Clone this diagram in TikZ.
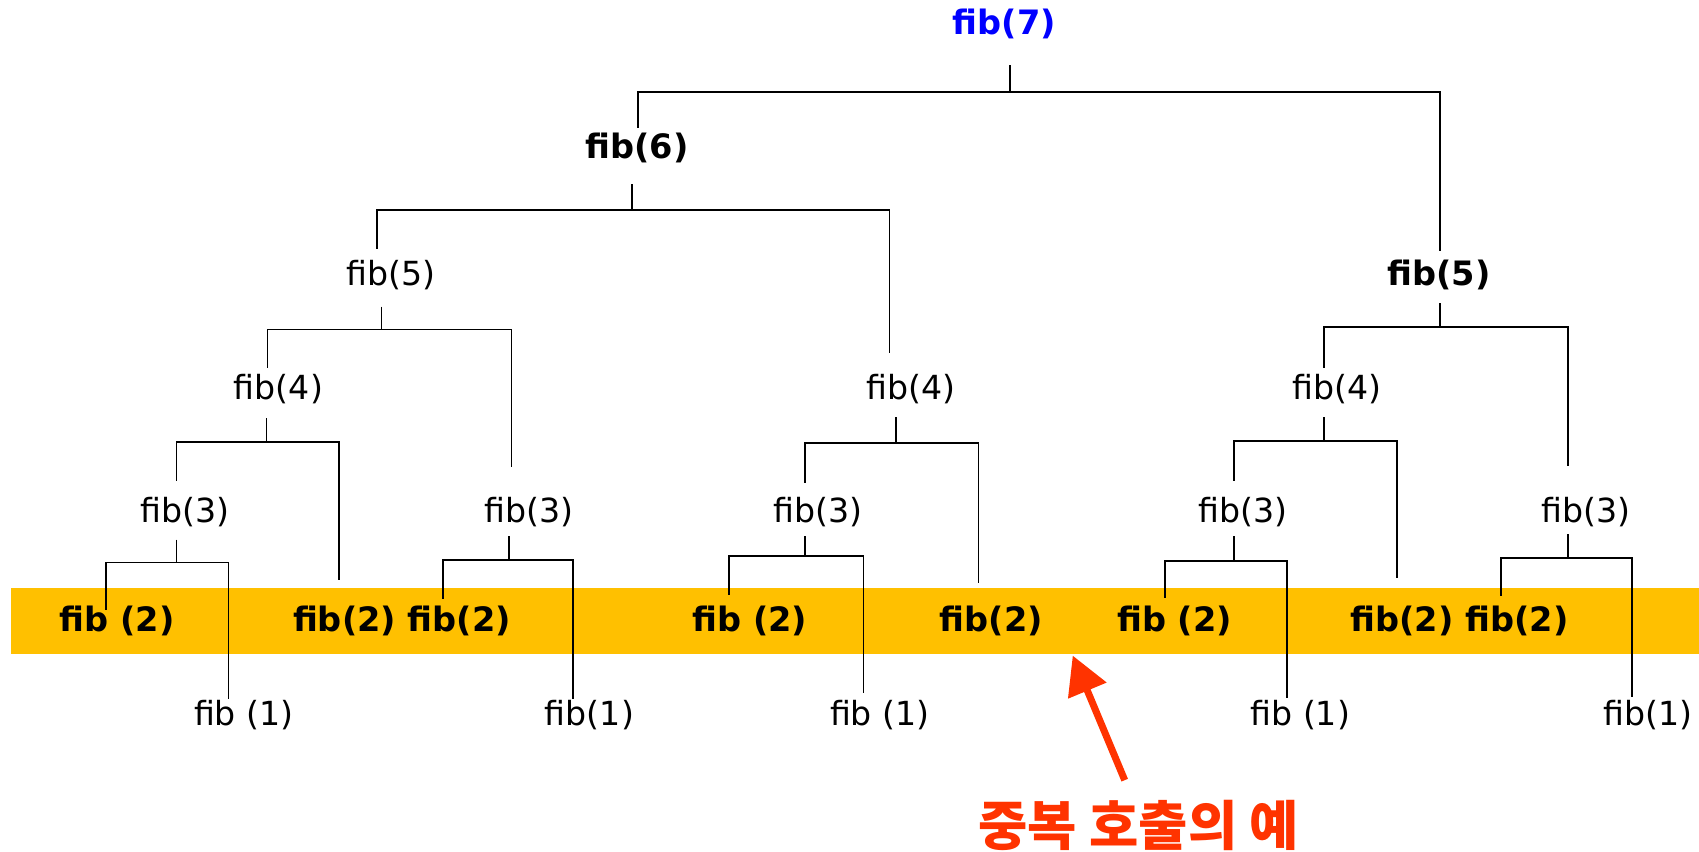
\documentclass[tikz,border=0pt]{standalone}
\usepackage{fontspec}
\setmainfont{DejaVu Sans}
\newfontfamily\kofont{Noto Sans CJK KR}
\usetikzlibrary{calc,arrows.meta}
\definecolor{band}{HTML}{FFC000}
\definecolor{callred}{HTML}{FF3300}
\definecolor{rootblue}{HTML}{0000FF}

% one call splitting into its two sub-calls:
% #1 parent, #2 start offset, #3 drop to the junction,
% #4 left child, #5 its end offset, #6 right child, #7 its end offset
\newcommand\fibsplit[7]{%
  \draw[conn] ($(#1)+(#2)$) -- ++(0,#3) -| ($(#4)+(#5)$);
  \draw[conn] ($(#1)+(#2)$) ++(0,#3) -| ($(#6)+(#7)$);
}

\begin{document}
\begin{tikzpicture}[x=0.5418pt,y=-0.5418pt,
  call/.style={inner sep=0pt,font=\fontsize{16.6}{20}\selectfont},
  dup/.style={call,font=\fontsize{16.8}{20}\selectfont\bfseries},
  conn/.style={line width=0.8pt,black},
  note/.style={inner sep=0pt,text=callred,font=\kofont\fontsize{26.8}{30}\selectfont\bfseries}]
\useasboundingbox (0,0) rectangle (1568,786);

% band marking the repeated fib(2) calls
\fill[band] (10,543) rectangle (1568,604);

% calls
\node[dup,text=rootblue] (f7) at (927,22) {fib(7)};
\node[dup] (f6) at (588,137) {fib(6)};
\node[dup] (f5r) at (1328,254) {fib(5)};
\node[call] (f5l) at (361,254) {fib(5)};
\node[call] (f4a) at (257,359) {fib(4)};
\node[call] (f4b) at (841,359) {fib(4)};
\node[call] (f4c) at (1234,359) {fib(4)};
\node[call] (f3a) at (171,473) {fib(3)};
\node[call] (f3b) at (488,473) {fib(3)};
\node[call] (f3c) at (755,473) {fib(3)};
\node[call] (f3d) at (1147,473) {fib(3)};
\node[call] (f3e) at (1464,473) {fib(3)};
\node[dup] (f2a) at (108,573) {fib (2)};
\node[dup] (f2b) at (318,573) {fib(2)};
\node[dup] (f2c) at (424,573) {fib(2)};
\node[dup] (f2d) at (692,573) {fib (2)};
\node[dup] (f2e) at (915,573) {fib(2)};
\node[dup] (f2f) at (1084,573) {fib (2)};
\node[dup] (f2g) at (1294,573) {fib(2)};
\node[dup] (f2h) at (1400,573) {fib(2)};
\node[call] (f1a) at (225,660) {fib (1)};
\node[call] (f1b) at (544,660) {fib(1)};
\node[call] (f1c) at (812,660) {fib (1)};
\node[call] (f1d) at (1200,660) {fib (1)};
\node[call] (f1e) at (1521,660) {fib(1)};

% call tree
\fibsplit{f7}{5,38}{25}{f6}{1,-19}{f5r}{1,-22}
\fibsplit{f6}{-5,33}{24}{f5l}{-13,-24}{f4b}{-20,-33}
\fibsplit{f5l}{-9,29}{21}{f4a}{-10,-19}{f3b}{-16,-42}
\fibsplit{f4a}{-11,27}{22}{f3a}{-8,-29}{f2b}{-5,-38}
\fibsplit{f3a}{-8,25}{21}{f2a}{-10,-10}{f1a}{-14,-15}
\fibsplit{f3b}{-18,22}{22}{f2c}{-15,-20}{f1b}{-15,-15}
\fibsplit{f4b}{-14,26}{24}{f3c}{-12,-27}{f2e}{-12,-35}
\fibsplit{f3c}{-12,22}{18}{f2d}{-19,-24}{f1c}{-15,-20}
\fibsplit{f5r}{1,26}{22}{f4c}{-12,-19}{f3e}{-17,-43}
\fibsplit{f4c}{-12,26}{22}{f3d}{-8,-29}{f2g}{-5,-40}
\fibsplit{f3d}{-8,22}{23}{f2f}{-9,-21}{f1d}{-12,-16}
\fibsplit{f3e}{-17,20}{22}{f2h}{-15,-23}{f1e}{-15,-17}

% note with its arrow
\node[note] (nt) at (1051,762) {중복 호출의 예};
\coordinate (tip) at (990,605);
\draw[callred,line width=3.5pt,-{Triangle[length=19pt,width=20pt]}]
  ($(nt.center)+(-13,-42)$) -- (tip);
\end{tikzpicture}
\end{document}
